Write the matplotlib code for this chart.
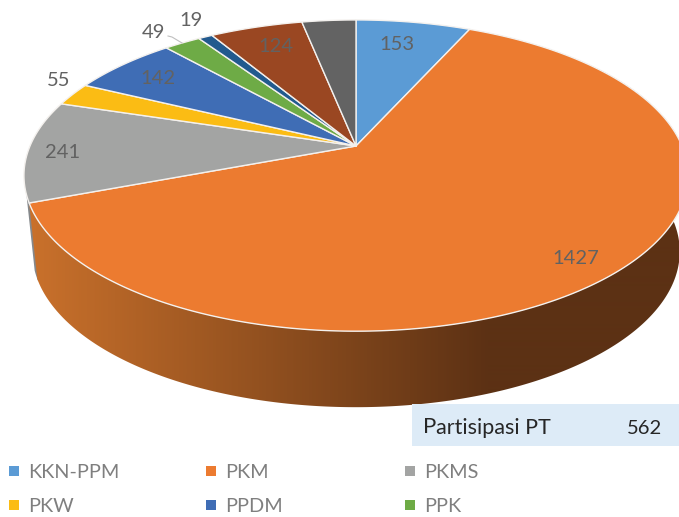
import numpy as np
import matplotlib
matplotlib.use("Agg")
import matplotlib.pyplot as plt
from matplotlib.colors import LinearSegmentedColormap
from matplotlib.patches import Polygon

plt.rcParams['font.family'] = ['Lato', 'DejaVu Sans']

# --- data ---
slice_names = ["KKN-PPM", "PKM", "PKMS", "PKW", "PPDM", "PPK", "PPM", "PPUPIK", "Lainnya"]
slice_values = [153, 1427, 241, 55, 142, 49, 19, 124, 72]
value_labels = ["153", "1427", "241", "55", "142", "49", "19", "124", ""]
slice_colors = ["#5B9BD5", "#EC7B30", "#A3A4A3", "#FBBC14", "#3F6DB5",
                "#6EAB46", "#225A8E", "#9A4722", "#636363"]
legend_count = 6
panel_label = "artisipasi PT"
panel_initial = "P"
panel_value = "562"

# --- layout (image pixels) ---
W, H = 679, 517
CX, CY = 356, 146
RX, RY, K = 326, 150, 0.19
DEPTH, SIDE_SCALE = 76, 0.975
LABEL_POS = [(397, 44), (576, 259), (63, 153), (59, 81), (158, 79),
             (153, 32), (191, 20), (276, 47), None]
LEGEND_COLS = [9, 206, 405]
LEGEND_ROWS = [471, 505]
TXT = "#626262"


def project(theta, r=1.0):
    """Clockwise angle from 12 o'clock to image pixels, in perspective."""
    u, v = r * np.sin(theta), r * np.cos(theta)
    w = 1 + K * v
    return CX + RX * u / w, CY - RY * v / w


def side_point(theta):
    x, y = project(theta)
    return CX + (x - CX) * SIDE_SCALE, y + DEPTH


fig = plt.figure(figsize=(W / 100, H / 100), dpi=100)
ax = fig.add_axes([0, 0, 1, 1])
ax.set_xlim(0, W)
ax.set_ylim(H, 0)
ax.axis("off")

edges = 2 * np.pi * np.concatenate([[0], np.cumsum(slice_values)]) / np.sum(slice_values)

# grey sliver of the next slice, behind the front wall
t = np.linspace(edges[2] - np.radians(1), edges[2] + np.radians(3), 12)
xt, yt = project(t)
xb, yb = side_point(t)
ax.fill(np.r_[xt, xb[::-1]], np.r_[yt, yb[::-1]], color="#85888B", lw=0, zorder=1)

# front wall of the large slice, with a horizontal shading
t = np.linspace(np.radians(55), edges[2], 300)
xt, yt = project(t)
xb, yb = side_point(t)
wall = Polygon(np.c_[np.r_[xt, xb[::-1]], np.r_[yt, yb[::-1]]], closed=True,
               transform=ax.transData, fc="none", ec="none")
ax.add_patch(wall)
cmap = LinearSegmentedColormap.from_list("wall", ["#C8702B", "#5C3114"])
grad = np.clip((np.arange(W) + 0.5 - 35) / (490 - 35), 0, 1)[None, :]
img = ax.imshow(grad, cmap=cmap, vmin=0, vmax=1, extent=(0, W, H, 0), aspect="auto",
                interpolation="bilinear", zorder=2)
img.set_clip_path(wall)
ax.set_xlim(0, W)
ax.set_ylim(H, 0)

# top surface
for a, b, col in zip(edges[:-1], edges[1:], slice_colors):
    t = np.linspace(a, b, max(4, int((b - a) * 120)))
    x, y = project(t)
    ax.fill(np.r_[CX, x], np.r_[CY, y], fc=col, ec="#F4F1EE", lw=1.0, joinstyle="round", zorder=3)

# value labels
for txt, pos in zip(value_labels, LABEL_POS):
    if pos is not None:
        ax.text(pos[0], pos[1], txt, ha="center", va="center", fontsize=14.5, color=TXT, zorder=5)
ax.plot([168, 172, 182], [36, 37, 43], color="#BFBFBF", lw=0.8, zorder=5)

# summary panel
ax.fill_between([412, W], 404, 446, color="#DDEBF7", lw=0, zorder=6)
ax.text(423, 427, panel_initial, ha="left", va="center", fontsize=16, color="#262626", zorder=7)
ax.text(436, 428.5, panel_label, ha="left", va="center", fontsize=15.5, color="#262626", zorder=7)
ax.text(662, 428, panel_value, ha="right", va="center", fontsize=14.5, color="#262626", zorder=7)

# legend
for i in range(legend_count):
    cx = LEGEND_COLS[i % 3]
    cy = LEGEND_ROWS[i // 3]
    ax.fill_between([cx, cx + 10], cy - 5, cy + 5, color=slice_colors[i], lw=0, zorder=7)
    ax.text(cx + 19, cy + 1, slice_names[i], ha="left", va="center", fontsize=14.3, color="#7F7F7F", zorder=7)

fig.savefig("out.png", dpi=100)
